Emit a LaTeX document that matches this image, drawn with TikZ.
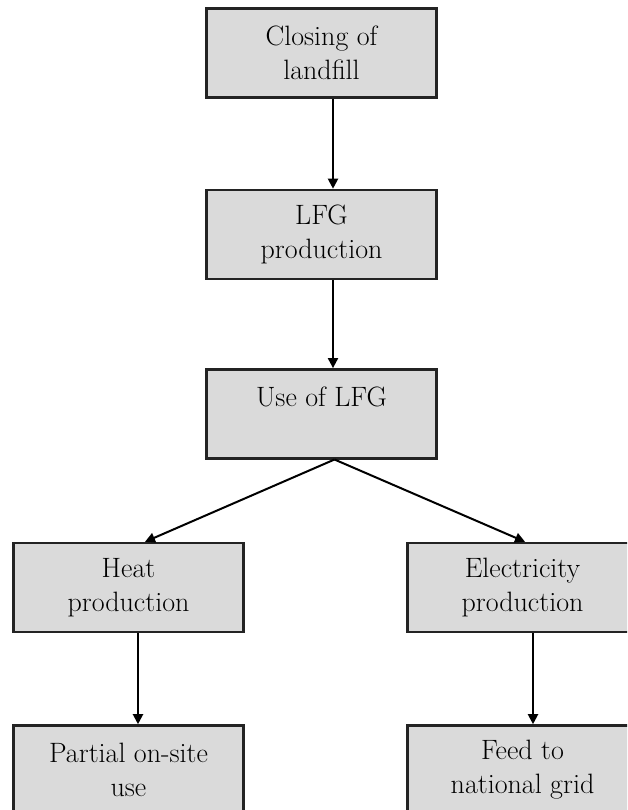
\documentclass[tikz,border=0pt]{standalone}
\usepackage{tikz}
\usetikzlibrary{arrows.meta,positioning}
\definecolor{boxgray}{RGB}{218,218,218}
\definecolor{edgegray}{RGB}{35,35,35}

\begin{document}
\begin{tikzpicture}[
  x=1pt,y=1pt,
  stage/.style={
    draw=edgegray,
    fill=boxgray,
    line width=2.4pt,
    minimum width=230pt,
    minimum height=89pt,
    inner sep=0pt,
    align=center,
    font=\fontsize{28}{34}\selectfont
  },
  flow/.style={-{Triangle[length=10pt,width=10pt]},line width=2pt,draw=black}
]
\useasboundingbox (0,0) rectangle (627,-810);
\clip (0,0) rectangle (627,-810);
\node[stage] (closing) at (321.5,-53) {Closing of\\landfill};
\node[stage,below=90pt of closing] (lfg) {LFG\\production};
\node[stage,below=88pt of lfg] (use) {Use of LFG\\\mbox{}};
\node[stage] (heat) at (128.5,-587.5) {Heat\\production};
\node[stage] (elec) at (522.5,-587.5) {Electricity\\production};
\node[stage,below=91pt of heat] (partial) {Partial on-site\\use};
\node[stage,below=91pt of elec] (grid) {Feed to\\national grid};
\draw[flow] ([xshift=11.5pt]closing.south) -- ([xshift=11.5pt]lfg.north);
\draw[flow] ([xshift=11.5pt]lfg.south) -- ([xshift=11.5pt]use.north);
\draw[flow] ([xshift=13pt]use.south) -- ([xshift=16.5pt]heat.north);
\draw[flow] ([xshift=13pt]use.south) -- ([xshift=2.5pt]elec.north);
\draw[flow] ([xshift=9.5pt]heat.south) -- ([xshift=9.5pt]partial.north);
\draw[flow] ([xshift=10.5pt]elec.south) -- ([xshift=10.5pt]grid.north);
\end{tikzpicture}
\end{document}
